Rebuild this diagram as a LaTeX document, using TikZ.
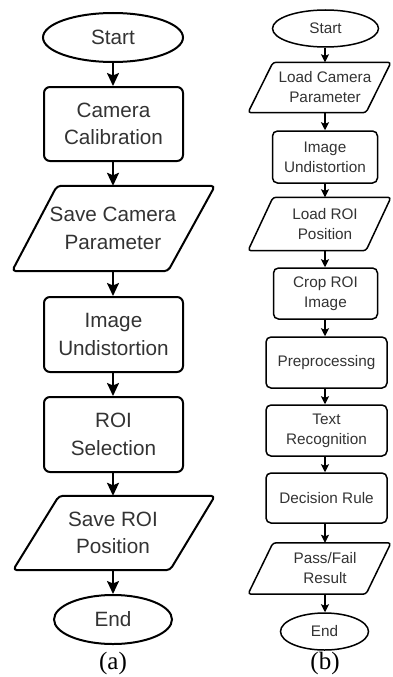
\documentclass[tikz,border=0pt]{standalone}
\usepackage{fontspec}
\setmainfont{Liberation Sans}
\newfontfamily\capfont{Liberation Serif}
\usetikzlibrary{shapes.geometric,arrows.meta,calc}
\begin{document}
\begin{tikzpicture}[x=1pt,y=-1pt,
  lfont/.style={text=black!80, align=center, font=\fontsize{20.7}{27.5}\selectfont, inner sep=0pt},
  rfont/.style={text=black!80, align=center, font=\fontsize{15.3}{20}\selectfont, inner sep=0pt},
  lline/.style={draw=black, line width=2pt},
  rline/.style={draw=black, line width=1.5pt},
  lbox/.style={lfont, lline, rounded corners=6pt, minimum width=139, minimum height=75},
  rbox/.style={rfont, rline, rounded corners=5pt, minimum height=51},
  lell/.style={lfont, lline, ellipse, minimum height=49},
  rell/.style={rfont, rline, ellipse, minimum height=37},
  ltxt/.style={lfont, minimum width=100},
  rtxt/.style={rfont, minimum width=80},
  larr/.style={line width=2pt, -{Stealth[length=13pt, width=12pt, inset=2.5pt]}},
  rarr/.style={line width=1.4pt, -{Stealth[length=8pt, width=8pt, inset=1.5pt]}},
  lpara/.style={lline, rounded corners=4pt, line join=round},
  rpara/.style={rline, rounded corners=3pt, line join=round},
  caption/.style={font=\capfont\fontsize{25}{25}\selectfont, anchor=base, inner sep=0pt}
]
\fill[white] (0,0) rectangle (393,677);
\useasboundingbox (0,0) rectangle (393,677);

% ---------- (a) ----------
\node[lell, minimum width=140] (s1) at (113,37.5) {Start};
\node[lbox, minimum height=74] (c1) at (113.5,124) {Camera\\Calibration};
\node[ltxt, minimum height=85] (p1) at (113,228.5) {Save Camera\\Parameter};
\draw[lpara] ($(p1.north)+(-56,0)$) -- ($(p1.north)+(102,0)$) -- ($(p1.south)+(55,0)$) -- ($(p1.south)+(-101,0)$) -- cycle;
\node[lbox] (u1) at (113.5,334.5) {Image\\Undistortion};
\node[lbox] (r1) at (113.5,434.5) {ROI\\Selection};
\node[ltxt, minimum height=74] (p2) at (113,533) {Save ROI\\Position};
\draw[lpara] ($(p2.north)+(-54,0)$) -- ($(p2.north)+(102,0)$) -- ($(p2.south)+(57,0)$) -- ($(p2.south)+(-100,0)$) -- cycle;
\node[lell, minimum width=118] (e1) at (113,619.5) {End};

\draw[larr] (s1.south) -- (c1.north -| s1.south);
\draw[larr] (c1.south -| s1.south) -- (p1.north);
\draw[larr] (p1.south) -- (u1.north -| p1.south);
\draw[larr] (u1.south -| p1.south) -- (r1.north -| p1.south);
\draw[larr] (r1.south -| p1.south) -- (p2.north);
\draw[larr] (p2.south) -- (e1.north);

\node[caption] (ca) at (113,669) {(a)};

% ---------- (b) ----------
\node[rell, minimum width=106] (s2) at (325.5,28.5) {Start};
\node[rtxt, minimum height=50] (q1) at (325,87.5) {Load Camera\\Parameter};
\draw[rpara] ($(q1.north)+(-52,0)$) -- ($(q1.north)+(66,0)$) -- ($(q1.south)+(41,0)$) -- ($(q1.south)+(-77,0)$) -- cycle;
\node[rbox, minimum width=105, minimum height=52] (u2) at (325,157) {Image\\Undistortion};
\node[rtxt, minimum height=53] (q2) at (325,224) {Load ROI\\Position};
\draw[rpara] ($(q2.north)+(-52,0)$) -- ($(q2.north)+(66,0)$) -- ($(q2.south)+(41,0)$) -- ($(q2.south)+(-77,0)$) -- cycle;
\node[rbox, minimum width=104] (c2) at (325.5,293.5) {Crop ROI\\Image};
\node[rbox, minimum width=121] (pp) at (326.5,362.5) {Preprocessing};
\node[rbox, minimum width=121] (tr) at (326.5,430.5) {Text\\Recognition};
\node[rbox, minimum width=121, minimum height=50] (dr) at (326.5,498) {Decision Rule};
\node[rtxt, minimum height=51] (q3) at (325,568.5) {Pass/Fail\\Result};
\draw[rpara] ($(q3.north)+(-52,0)$) -- ($(q3.north)+(66,0)$) -- ($(q3.south)+(41,0)$) -- ($(q3.south)+(-77,0)$) -- cycle;
\node[rell, minimum width=88] (e2) at (324.5,631.5) {End};

\draw[rarr] (s2.south -| q1.north) -- (q1.north);
\draw[rarr] (q1.south) -- (u2.north -| q1.south);
\draw[rarr] (u2.south -| q1.south) -- (q2.north);
\draw[rarr] (q2.south) -- (c2.north -| q2.south);
\draw[rarr] (c2.south -| q2.south) -- (pp.north -| q2.south);
\draw[rarr] (pp.south -| q2.south) -- (tr.north -| q2.south);
\draw[rarr] (tr.south -| q2.south) -- (dr.north -| q2.south);
\draw[rarr] (dr.south -| q2.south) -- (q3.north);
\draw[rarr] (q3.south) -- (e2.north -| q3.south);

\node[caption] (cb) at (325,669) {(b)};
\end{tikzpicture}
\end{document}
